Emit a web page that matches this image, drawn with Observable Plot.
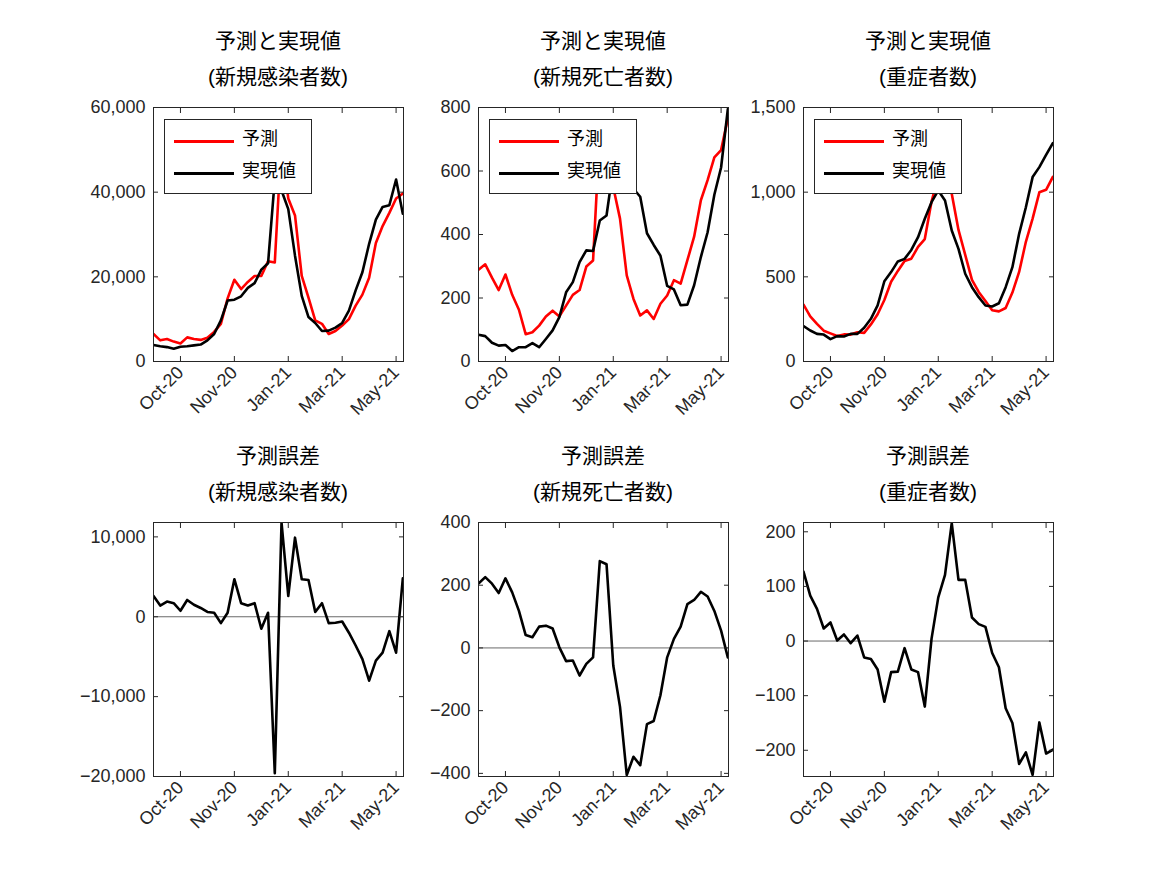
<!DOCTYPE html>
<html><head><meta charset="utf-8">
<script src="https://cdn.jsdelivr.net/npm/d3@7"></script>
<script src="https://cdn.jsdelivr.net/npm/@observablehq/plot@0.6"></script>
<style>
body{margin:0;background:#fff;font-family:"Liberation Sans","Noto Sans CJK JP",sans-serif;}
#root{position:relative;width:1167px;height:875px;overflow:hidden;}
.p{position:absolute;}
.t{position:absolute;width:300px;text-align:center;font-size:21px;color:#000;font-family:"Liberation Sans","Noto Sans CJK JP",sans-serif;line-height:1;}
.lg{position:absolute;background:#fff;border:1px solid #262626;box-sizing:border-box;width:148px;height:75px;}
.lg div{position:absolute;}
.lg .ln{left:9px;width:60px;height:3px;}
.lg .tx{left:77px;font-size:18px;color:#000;line-height:1;font-family:"Noto Sans CJK JP",sans-serif;}
</style></head><body><div id="root"></div>
<script>
const tickIdx = [4, 12, 20, 28, 36];
const tickLabels = ["Oct-20", "Nov-20", "Jan-21", "Mar-21", "May-21"];

const casesPred = [6500,5000,5300,4700,4250,5700,5300,5100,5600,7000,8900,14900,19300,17100,18800,20200,20200,23700,23400,52200,38500,34500,20200,15100,9700,8900,6500,7200,8500,10000,13200,15800,19800,28000,32000,35100,38500,39700];
const casesAct = [3900,3600,3400,3000,3500,3600,3800,4000,5000,6500,9700,14400,14600,15400,17400,18500,21700,23200,43000,40400,36000,25000,15500,10500,9100,7200,7300,8000,9100,12000,16800,21100,27800,33500,36500,36900,43000,34900];
const deathsPred = [289,306,264,225,274,210,163,86,92,113,142,160,142,176,210,225,299,318,721,727,549,450,271,197,145,161,134,182,208,256,245,319,393,508,571,643,666,765];
const deathsAct = [84,80,59,50,52,33,45,45,58,45,71,98,140,218,250,313,350,348,444,460,610,638,640,544,519,404,367,333,238,227,177,179,240,329,407,525,611,795];
const severePred = [336,266,222,182,166,151,160,159,173,169,219,279,363,471,535,593,607,677,723,945,1090,1072,990,777,630,482,411,357,303,296,316,407,529,707,844,999,1014,1090];
const severeAct = [209,183,163,159,132,150,148,163,163,199,252,331,474,528,591,606,659,734,843,941,1010,951,774,665,518,439,380,331,325,344,439,557,754,911,1089,1148,1220,1289];
const casesErr = [2600,1400,1900,1700,750,2100,1500,1100,600,500,-800,500,4700,1700,1400,1700,-1500,500,-19600,11800,2600,9900,4700,4600,600,1700,-800,-750,-600,-2000,-3600,-5300,-8000,-5500,-4500,-1800,-4500,4800];
const deathsErr = [205,226,205,175,222,177,118,41,34,68,71,62,2,-42,-40,-88,-51,-30,277,267,-56,-188,-405,-347,-374,-243,-233,-151,-30,29,68,140,153,179,164,118,55,-30];
const severeErr = [127,83,59,23,34,1,12,-4,10,-30,-33,-52,-111,-57,-56,-13,-52,-57,-120,4,80,121,216,112,112,43,31,26,-22,-48,-123,-150,-225,-204,-245,-149,-206,-199];

const root = document.getElementById("root");
const fmt = d3.format(",");
const colLeft = [153, 478, 803];
const rowTop = [107, 522];
const PW = 250, PH = 254;
const mL = 90, mR = 20, mT = 10, mB = 80;

function panel(col, row, yDomain, yTicks, series, zero) {
  const marks = [];
  if (zero) marks.push(Plot.ruleY([0], {stroke: "#444", strokeWidth: 0.8}));
  for (const s of series) {
    marks.push(Plot.line(s.v.map((v, i) => ({i, v})), {x: "i", y: "v", stroke: s.c, strokeWidth: 2.6, clip: true}));
  }
  marks.push(
    Plot.frame({stroke: "#262626", strokeWidth: 1}),
    Plot.axisX(tickIdx, {anchor: "bottom", tickSize: -5, text: null, label: null, stroke: "#262626"}),
    Plot.axisX(tickIdx, {anchor: "top", tickSize: -5, text: null, label: null, stroke: "#262626"}),
    Plot.axisY(yTicks, {anchor: "left", tickSize: -5, text: null, label: null, stroke: "#262626"}),
    Plot.axisY(yTicks, {anchor: "right", tickSize: -5, text: null, label: null, stroke: "#262626"}),
    Plot.axisX(tickIdx, {anchor: "bottom", tickSize: 0, tickPadding: 8, tickRotate: -45, label: null,
      tickFormat: d => tickLabels[tickIdx.indexOf(d)], fontSize: 18, fill: "#262626"}),
    Plot.axisY(yTicks, {anchor: "left", tickSize: 0, tickPadding: 8, label: null, tickFormat: fmt, fontSize: 18, fill: "#262626"})
  );
  const svg = Plot.plot({
    width: PW + mL + mR, height: PH + mT + mB,
    marginLeft: mL, marginRight: mR, marginTop: mT, marginBottom: mB,
    x: {domain: [0, 37.1], axis: null},
    y: {domain: yDomain, axis: null},
    style: {fontFamily: '"Liberation Sans", sans-serif', background: "transparent", overflow: "visible"},
    marks
  });
  svg.classList.add("p");
  svg.style.left = (colLeft[col] - mL) + "px";
  svg.style.top = (rowTop[row] - mT) + "px";
  root.appendChild(svg);
}

function title(col, row, l1, l2) {
  const cx = colLeft[col] + PW / 2;
  const y0 = row === 0 ? 30 : 445;
  for (const [k, s] of [[0, l1], [1, l2]]) {
    const d = document.createElement("div");
    d.className = "t"; d.textContent = s;
    d.style.left = (cx - 150) + "px"; d.style.top = (y0 + k * 36) + "px";
    root.appendChild(d);
  }
}

function legend(col) {
  const d = document.createElement("div");
  d.className = "lg";
  d.style.left = (colLeft[col] + 11) + "px"; d.style.top = "119px";
  d.innerHTML = '<div class="ln" style="top:20px;background:#f00"></div><div class="tx" style="top:8px">予測</div>' +
    '<div class="ln" style="top:52px;background:#000"></div><div class="tx" style="top:40px">実現値</div>';
  root.appendChild(d);
}

panel(0, 0, [0, 60000], [0, 20000, 40000, 60000], [{v: casesPred, c: "#f00"}, {v: casesAct, c: "#000"}]);
panel(1, 0, [0, 800], [0, 200, 400, 600, 800], [{v: deathsPred, c: "#f00"}, {v: deathsAct, c: "#000"}]);
panel(2, 0, [0, 1500], [0, 500, 1000, 1500], [{v: severePred, c: "#f00"}, {v: severeAct, c: "#000"}]);
panel(0, 1, [-20000, 11800], [-20000, -10000, 0, 10000], [{v: casesErr, c: "#000"}], true);
panel(1, 1, [-410, 400], [-400, -200, 0, 200, 400], [{v: deathsErr, c: "#000"}], true);
panel(2, 1, [-248, 217], [-200, -100, 0, 100, 200], [{v: severeErr, c: "#000"}], true);

title(0, 0, "予測と実現値", "(新規感染者数)");
title(1, 0, "予測と実現値", "(新規死亡者数)");
title(2, 0, "予測と実現値", "(重症者数)");
title(0, 1, "予測誤差", "(新規感染者数)");
title(1, 1, "予測誤差", "(新規死亡者数)");
title(2, 1, "予測誤差", "(重症者数)");
legend(0); legend(1); legend(2);
</script></body></html>
